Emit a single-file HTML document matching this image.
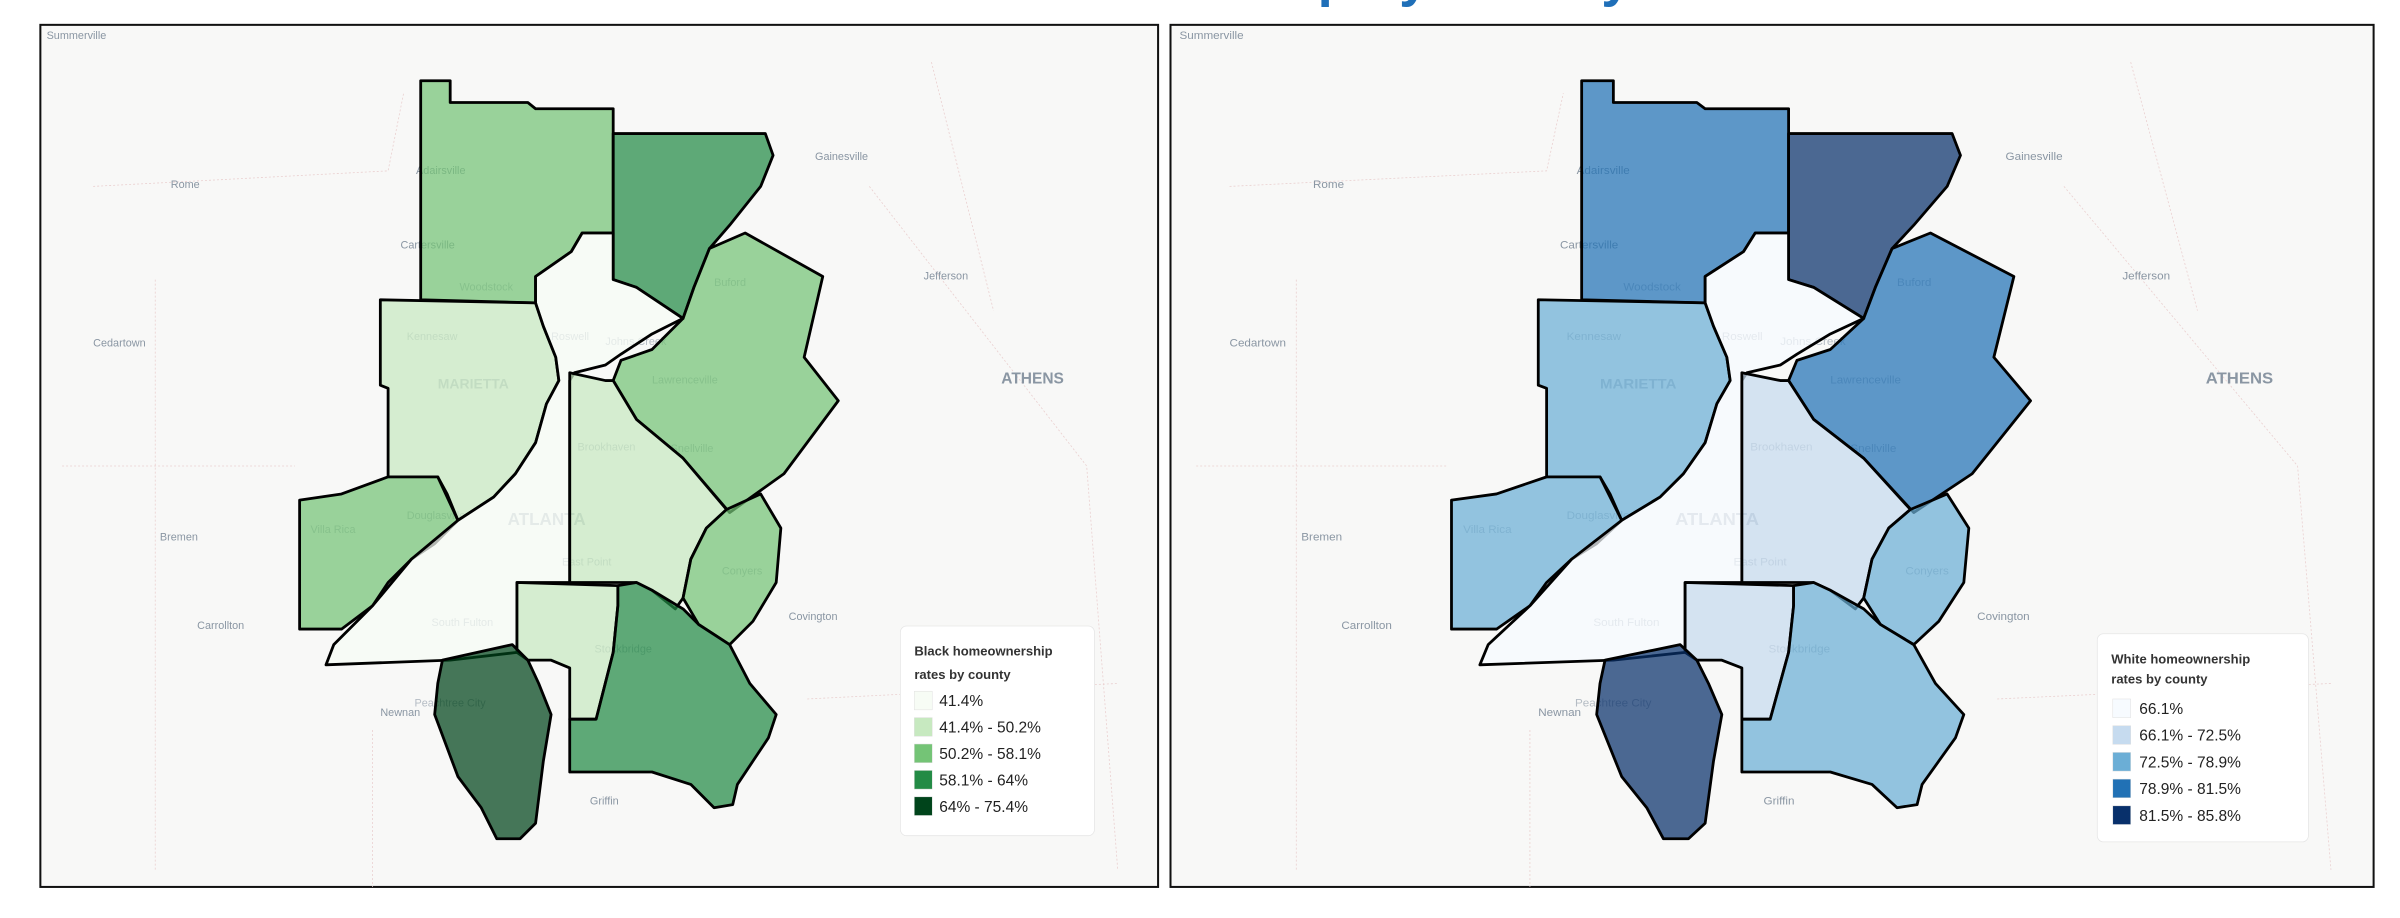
<!DOCTYPE html>
<html><head><meta charset="utf-8"><style>
html,body{margin:0;padding:0;background:#fff;width:2400px;height:918px;overflow:hidden}
svg{display:block;font-family:"Liberation Sans",sans-serif}
</style></head><body>
<svg id="chart" width="2400" height="918" viewBox="0 0 1546 591" preserveAspectRatio="none" xmlns="http://www.w3.org/2000/svg">
<text x="598" y="-3" font-size="35" font-weight="bold" fill="#1f6fb8">Homeownership by County</text>
<g id="left-panel"></g>
<g id="right-panel"></g>
</svg>
<script>
const counties = ["cherokee","forsyth","gwinnett","cobb","douglas","fulton","dekalb","rockdale","clayton","henry","fayette"];
const blackClass = [2,3,2,1,2,0,1,2,1,3,4];
const whiteClass = [3,4,3,2,2,0,1,2,1,2,4];
const blackLabels = ["41.4%","41.4% - 50.2%","50.2% - 58.1%","58.1% - 64%","64% - 75.4%"];
const whiteLabels = ["66.1%","66.1% - 72.5%","72.5% - 78.9%","78.9% - 81.5%","81.5% - 85.8%"];
const greens = ["#f7fcf5","#c7e9c0","#74c476","#238b45","#00441b"];
const blues = ["#f7fbff","#c6dbef","#6baed6","#2171b5","#08306b"];

const shapes = {
cherokee:"271,52 290,52 290,66 340,66 345,70 395,70 395,150 375,150 368,162 345,178 345,195 271,193",
forsyth:"395,86 493,86 498,100 490,120 470,145 457,160 447,185 440,205 425,195 410,185 395,180",
gwinnett:"457,160 480,150 530,178 518,230 540,258 505,305 470,330 440,295 410,270 395,245 400,232 420,225 440,205 447,185",
cobb:"245,193 345,195 350,210 358,230 360,245 352,260 345,285 332,305 318,320 295,335 288,318 282,307 250,307 250,250 245,248",
douglas:"193,322 220,318 250,307 282,307 295,335 280,350 265,360 250,375 240,390 220,405 193,405",
fulton:"345,195 345,178 368,162 375,150 395,150 395,180 410,185 440,205 420,215 400,228 390,235 370,240 367,245 367,375 333,375 333,420 290,425 210,428 215,415 240,390 265,360 295,335 318,320 332,305 345,285 352,260 360,245 358,230 350,210",
dekalb:"367,240 390,245 395,245 410,270 440,295 468,328 455,340 445,360 440,385 435,392 420,380 410,375 367,375",
rockdale:"468,328 490,318 503,340 500,375 485,400 470,415 450,402 440,385 445,360 455,340",
clayton:"333,375 398,377 398,390 395,420 384,463 367,463 367,430 355,425 340,425 333,420",
henry:"398,377 410,375 420,380 440,392 450,402 470,415 483,440 500,460 495,475 485,490 475,505 472,518 460,520 445,505 420,497 367,497 367,463 384,463 395,420 398,390",
fayette:"285,425 330,415 340,425 347,440 355,460 350,490 345,530 335,540 320,540 310,520 295,500 280,460 282,440"
};
const cities = [["Summerville",30,25,7,0],["Adairsville",268,112,7,0],["Rome",110,121,7,0],["Cartersville",258,160,7,0],["Gainesville",525,103,7,0],["Jefferson",595,180,7,0],["Cedartown",60,223,7,0],["ATHENS",645,247,10,0],["Kennesaw",262,219,7,1],["MARIETTA",282,250,9,1],["Woodstock",296,187,7,1],["Roswell",355,219,7,1],["Johns Creek",390,222,7,1],["Brookhaven",372,290,7,1],["Lawrenceville",420,247,7,1],["Snellville",432,291,7,1],["Bremen",103,348,7,0],["Villa Rica",200,343,7,1],["Douglasville",262,334,7,1],["ATLANTA",327,338,11,1],["East Point",362,364,7,1],["South Fulton",278,403,7,1],["Conyers",465,370,7,1],["Covington",508,399,7,0],["Carrollton",127,405,7,0],["Stockbridge",383,420,7,1],["Newnan",245,461,7,0],["Peachtree City",267,455,7,1],["Griffin",380,518,7,0],["Buford",460,184,7,1]];

const NS="http://www.w3.org/2000/svg";
function mk(tag,attrs,parent){const e=document.createElementNS(NS,tag);for(const k in attrs)e.setAttribute(k,attrs[k]);parent.appendChild(e);return e;}

function drawPanel(g, frameX, frameW, tf, classes, palette, labels, title1, lg){
  mk("rect",{x:frameX,y:16,width:frameW,height:555,fill:"#f8f8f7",stroke:"#111","stroke-width":1.3},g);
  const clip = mk("clipPath",{id:"clip"+frameX},g);
  mk("rect",{x:frameX,y:16,width:frameW,height:555},clip);
  const inner = mk("g",{"clip-path":"url(#clip"+frameX+")"},g);
  const m = mk("g",{transform:tf},inner);
  const dots=["60,120 250,110 260,60","40,300 190,300","100,180 100,560","560,120 700,300 720,560","520,450 720,440","240,470 240,580","600,40 640,200"];
  dots.forEach(p=>{const l=mk("polyline",{points:p,fill:"none",stroke:"#ead0d0","stroke-width":0.8,"stroke-dasharray":"2,2","vector-effect":"non-scaling-stroke"},m);
  
  });
  cities.forEach(c=>{const t=mk("text",{x:c[1],y:c[2],"font-size":c[3],fill:c[4]?"#b5bcc4":"#8a96a3","font-weight":c[3]>8?"bold":"normal"},m);t.textContent=c[0];
  
  });
  counties.forEach((c,i)=>{
    const p=mk("polygon",{points:shapes[c],fill:palette[classes[i]],"fill-opacity":0.72,stroke:"#000","stroke-width":2.8,"stroke-linejoin":"round","vector-effect":"non-scaling-stroke"},m);
    
    
  });
  const L = mk("g",{},g);
  
  
  mk("rect",{x:lg.x,y:lg.y,width:lg.w,height:lg.h,rx:4,fill:"#fff",stroke:"#e6e6e6","stroke-width":0.5},L);
  const t1=mk("text",{x:lg.tx,y:lg.t1,"font-size":8.4,"font-weight":"bold",fill:"#333"},L);t1.textContent=title1;
  
  
  const t2=mk("text",{x:lg.tx,y:lg.t2,"font-size":8.4,"font-weight":"bold",fill:"#333"},L);t2.textContent="rates by county";
  labels.forEach((lab,i)=>{
    const cy=lg.r0+i*lg.dr;
    const s=mk("rect",{x:lg.sx,y:cy-6,width:11.5,height:12,fill:palette[i],stroke:"#ddd","stroke-width":0.3},L);
    
    
    const tx=mk("text",{x:lg.lx,y:cy+3.6,"font-size":10,fill:"#222"},L);tx.textContent=lab;
    
    
  });
}
drawPanel(document.getElementById("left-panel"),26,720,"translate(0,0)",blackClass,greens,blackLabels,"Black homeownership",
 {x:580,y:403,w:125,h:135,tx:589,t1:422,t2:437,r0:451,dr:17,sx:589,lx:605});
drawPanel(document.getElementById("right-panel"),754,775,"translate(935,0) scale(1.075,1) translate(-193,0)",whiteClass,blues,whiteLabels,"White homeownership",
 {x:1351,y:408,w:136,h:134,tx:1360,t1:427,t2:440,r0:456,dr:17.2,sx:1361,lx:1378});
</script>
</body></html>
